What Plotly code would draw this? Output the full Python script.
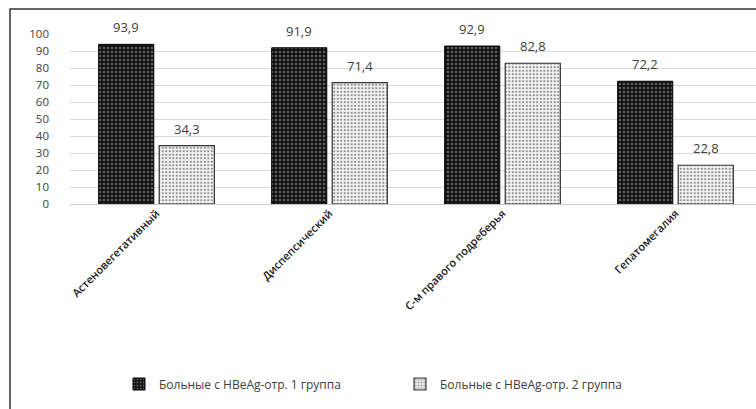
import plotly.graph_objects as go

categories = ["Астеновегетативный", "Диспепсический", "С-м правого подреберья", "Гепатомегалия"]
group1_name = "Больные с HBeAg-отр. 1 группа"
group2_name = "Больные с HBeAg-отр. 2 группа"
group1_values = [93.9, 91.9, 92.9, 72.2]
group2_values = [34.3, 71.4, 82.8, 22.8]
y_ticks = [0, 10, 20, 30, 40, 50, 60, 70, 80, 90, 100]


def fmt(v):
    return f"{v:.1f}".replace(".", ",")


FONT = "Open Sans, Lato, sans-serif"

L, T, B_PIX = 70, 34, 204
W, H = 756, 409
pw = W - L
CAT_PX = 173.0
BARGAP = 0.30
BARGROUPGAP = 0.09
slot_px = CAT_PX * (1 - BARGAP) / 2

fig = go.Figure()
fig.add_trace(go.Bar(
    name=group1_name, x=categories, y=group1_values,
    marker=dict(color="#111111", line=dict(color="#000000", width=1),
                pattern=dict(shape=".", fgcolor="#5e5e5e", bgcolor="#111111",
                             size=4, solidity=0.35, fillmode="replace")),
))
fig.add_trace(go.Bar(
    name=group2_name, x=categories, y=group2_values,
    marker=dict(color="#ffffff", line=dict(color="#333333", width=1.2),
                pattern=dict(shape=".", fgcolor="#8f8f8f", bgcolor="#f6f6f6",
                             size=3.5, solidity=0.35, fillmode="replace")),
))

annotations = []
for vals, sign in ((group1_values, -1), (group2_values, 1)):
    for c, v in zip(categories, vals):
        annotations.append(dict(
            x=c, y=v, xref="x", yref="y", text=fmt(v), showarrow=False,
            xanchor="center", yanchor="bottom", xshift=sign * slot_px / 2, yshift=6,
            font=dict(size=13, color="#404040", family=FONT),
        ))

fig.update_layout(
    width=W, height=H,
    margin=dict(l=L, r=0, t=T, b=H - B_PIX, pad=0),
    paper_bgcolor="white", plot_bgcolor="white",
    barmode="group", bargap=BARGAP, bargroupgap=BARGROUPGAP,
    font=dict(family=FONT, color="#404040"),
    showlegend=True,
    legend=dict(orientation="h", x=(119 - L) / pw, xanchor="left",
                y=(B_PIX - 384) / (B_PIX - T), yanchor="middle",
                font=dict(size=12, color="#404040", family=FONT),
                entrywidth=236, itemwidth=30, bgcolor="rgba(0,0,0,0)"),
    xaxis=dict(range=[-0.5, -0.5 + pw / CAT_PX], tickangle=-45,
               tickfont=dict(size=11, color="#1a1a1a", family=FONT, weight=600),
               showgrid=False, showline=False, ticks=""),
    yaxis=dict(range=[0, 100], tickvals=y_ticks, showgrid=True,
               gridcolor="#d9d9d9", gridwidth=1, zeroline=True,
               zerolinecolor="#c8c8c8", zerolinewidth=1,
               tickfont=dict(size=11.5, color="#404040", family=FONT),
               ticklabelstandoff=20, showline=False, ticks=""),
    annotations=annotations,
    shapes=[dict(type="rect", xref="paper", yref="paper",
                 x0=(10 - L) / pw, x1=1.05,
                 y0=-2.0, y1=(B_PIX - 9) / (B_PIX - T),
                 line=dict(color="#333333", width=1.5), fillcolor="rgba(0,0,0,0)",
                 layer="below")],
)

fig.write_html("out.html", config={"displayModeBar": False},
               post_script="document.body.style.margin='0';document.body.style.padding='0';document.body.style.overflow='hidden';")
